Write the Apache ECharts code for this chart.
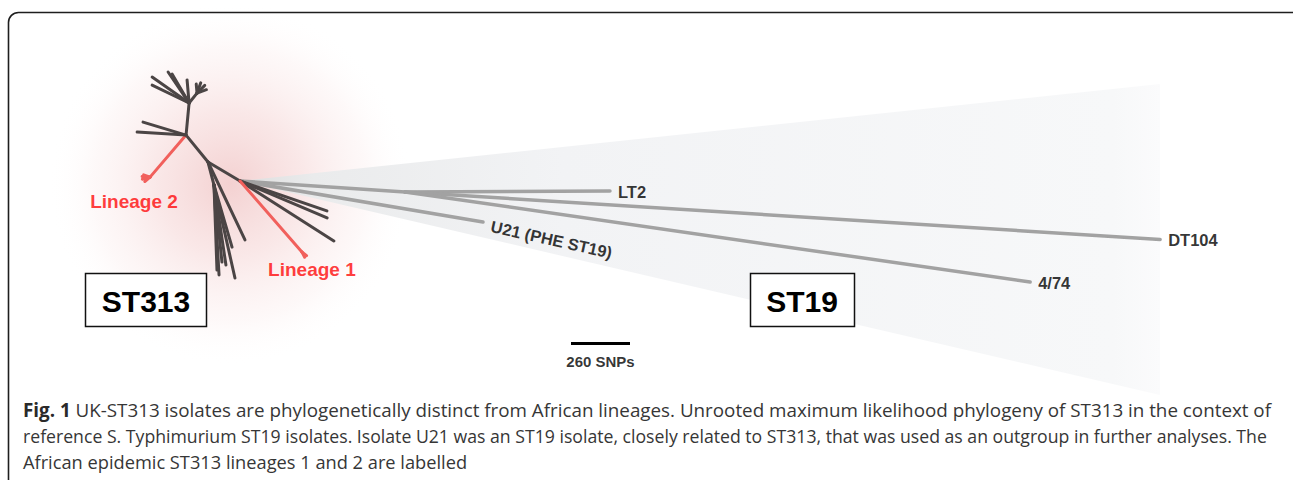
<!DOCTYPE html>
<html><head><meta charset="utf-8">
<script src="https://cdn.jsdelivr.net/npm/echarts@6/dist/echarts.min.js"></script>
<style>html,body{margin:0;padding:0;background:#fff}#c{width:1293px;height:480px}</style>
</head><body><div id="c"></div>
<script>
// ---- Tree data: each branch = child, parent, length (SNPs), direction (deg, CCW from east), clade ----
const edgeChild  = ['B','LT2','DT104','4/74','U21',
  'N1','N2','L2','L2a','L2b','L2c','L2d','a','b','N3','c1','c2','c3','c4','c5','N4','N4a','N4b','N4c','N4d',
  'N5','d1','e1','e2','e3','e4','e5','e6','r1','r2','r3','L1','L1a','L1b'];
const edgeParent = ['H','B','B','B','H',
  'H','N1','N2','L2','L2','L2','L2','N2','N2','N2','N3','N3','N3','N3','N3','N3','N4','N4','N4','N4',
  'N1','N1','N5','N5','N5','N5','N5','N5','H','H','H','H','L1','L1'];
const edgeLength = [729, 903, 3334, 2783, 1086,
  164, 153, 244, 35, 35, 30, 30, 198, 216, 142, 199, 181, 148, 165, 102, 56, 48, 48, 44, 40,
  105, 380, 397, 341, 356, 285, 420, 375, 405, 417, 491, 415, 26, 26];
const edgeAngle  = [-3.8, 0.3, -3.6, -8.2, -9.6,
  149.3, 129.2, -130.6, 175, -165, -140, 160, 163.2, 176.5, 84.6, 144.9, 154.1, 120.4, 124.1, 95, 51.3, 70, 45, 20, 95,
  -75.4, -64.6, -86.8, -84.1, -81.5, -73.8, -77.3, -88, -19, -23, -32.6, -48.9, -62, -38];
const edgeClade  = ['ST19','ST19','ST19','ST19','ST19',
  'ST313','ST313','L2','L2','L2','L2','L2','ST313','ST313','ST313','ST313','ST313','ST313','ST313','ST313','ST313','ST313','ST313','ST313','ST313',
  'ST313','ST313','ST313','ST313','ST313','ST313','ST313','ST313','ST313','ST313','ST313','L1','L1','L1'];
const tipNodes  = ['LT2','DT104','4/74','U21'];
const tipLabels = ['LT2','DT104','4/74','U21 (PHE ST19)'];
const lineageNodes  = ['L2','L1'];
const lineageLabels = ['Lineage 2','Lineage 1'];
const scaleBarSNPs = 260;
const captionBold = 'Fig. 1';
const captionLines = [
  ' UK-ST313 isolates are phylogenetically distinct from African lineages. Unrooted maximum likelihood phylogeny of ST313 in the context of',
  'reference S. Typhimurium ST19 isolates. Isolate U21 was an ST19 isolate, closely related to ST313, that was used as an outgroup in further analyses. The',
  'African epidemic ST313 lineages 1 and 2 are labelled'
];

// ---- layout ----
const K = 260 / 59;          // SNPs per pixel
const HUB = [240, 181];      // pixel position of the central node
const W = 1293, H = 480;

const pos = { H: [0, 0] };
edgeChild.forEach((c, i) => {
  const p = pos[edgeParent[i]];
  const a = edgeAngle[i] * Math.PI / 180;
  pos[c] = [p[0] + edgeLength[i] * Math.cos(a), p[1] + edgeLength[i] * Math.sin(a)];
});

const cladeColor = { ST19: '#a2a2a2', ST313: '#4b4545', L1: '#f1605c', L2: '#f1605c' };
function edgesOf(filter) {
  const out = [];
  edgeChild.forEach((c, i) => {
    if (!filter(edgeClade[i])) return;
    out.push({ coords: [pos[edgeParent[i]], pos[c]], lineStyle: { color: cladeColor[edgeClade[i]] } });
  });
  return out;
}

// caption sizes fitted to the reference line widths
const cv = document.createElement('canvas').getContext('2d');
cv.font = '16px "Open Sans"';
const w1 = cv.measureText(captionLines[0]).width;
const w2 = cv.measureText(captionLines[1]).width;
cv.font = 'bold 16px "Open Sans"';
const wb = cv.measureText(captionBold).width;
const s1 = Math.max(15, Math.min(20, 16 * 1249 / (w1 + wb)));
const s2 = Math.max(15, Math.min(20, 16 * 1245 / w2));
const capSizes = [s1, s2, (s1 + s2) / 2];

const sbStart = [(571 - HUB[0]) * K, -(343 - HUB[1]) * K];

const chart = echarts.init(document.getElementById('c'), null, { renderer: 'svg' });
const labelFont = 'Liberation Sans, Arial, Helvetica, sans-serif';

chart.setOption({
  animation: false,
  backgroundColor: '#ffffff',
  grid: { left: 0, right: 0, top: 0, bottom: 0 },
  xAxis: { type: 'value', min: -HUB[0] * K, max: (W - HUB[0]) * K, show: false },
  yAxis: { type: 'value', min: -(H - HUB[1]) * K, max: HUB[1] * K, show: false },
  graphic: [
    { type: 'circle', z: 0, silent: true, shape: { cx: 230, cy: 184, r: 182 },
      style: { fill: new echarts.graphic.RadialGradient(0.5, 0.5, 0.5, [
        { offset: 0, color: 'rgba(226,140,140,0.40)' },
        { offset: 0.4, color: 'rgba(234,165,165,0.26)' },
        { offset: 0.75, color: 'rgba(242,200,200,0.12)' },
        { offset: 1, color: 'rgba(255,255,255,0)' }]) } },
    { type: 'polygon', z: 1, silent: true,
      shape: { points: [[HUB[0], HUB[1]], [1160, 84], [1160, 395]] },
      style: { fill: new echarts.graphic.LinearGradient(0, 0, 1, 0, [
        { offset: 0, color: '#dedede' },
        { offset: 0.08, color: '#eaebec' },
        { offset: 0.35, color: '#f2f3f5' },
        { offset: 0.95, color: '#f7f8f9' },
        { offset: 1, color: '#fbfbfc' }]) } },
    { type: 'rect', z: 5, silent: true, shape: { x: 8.5, y: 12.5, width: 1300, height: 520, r: 10 },
      style: { fill: 'none', stroke: '#1e1e1e', lineWidth: 1.6 } },
    { type: 'rect', z: 5, shape: { x: 85.5, y: 273.5, width: 121, height: 53 },
      style: { fill: '#fff', stroke: '#111', lineWidth: 1.5 } },
    { type: 'text', z: 6, style: { text: 'ST313', x: 146, y: 301, textAlign: 'center', textVerticalAlign: 'middle',
      fontSize: 30, fontWeight: 'bold', fontFamily: labelFont, fill: '#000' } },
    { type: 'rect', z: 5, shape: { x: 750.5, y: 273.5, width: 104, height: 53 },
      style: { fill: '#fff', stroke: '#111', lineWidth: 1.5 } },
    { type: 'text', z: 6, style: { text: 'ST19', x: 802, y: 301, textAlign: 'center', textVerticalAlign: 'middle',
      fontSize: 30, fontWeight: 'bold', fontFamily: labelFont, fill: '#000' } },
  ].concat(captionLines.map((t, i) => ({
    type: 'text', z: 6, style: {
      text: (i === 0 ? '{b|' + captionBold + '}' : '') + t, x: 23, y: 410 + i * 26, textVerticalAlign: 'middle',
      fontSize: capSizes[i], fontFamily: 'Open Sans', fill: '#363636',
      rich: { b: { fontWeight: 'bold', fontFamily: 'Open Sans', fontSize: capSizes[i], fill: '#2a2a2a' } }
    }
  }))),
  series: [
    { type: 'lines', coordinateSystem: 'cartesian2d', z: 3, silent: true,
      lineStyle: { width: 3.5, opacity: 1, cap: 'round' }, data: edgesOf(c => c === 'ST19') },
    { type: 'lines', coordinateSystem: 'cartesian2d', z: 4, silent: true,
      lineStyle: { width: 3, opacity: 1, cap: 'round' }, data: edgesOf(c => c !== 'ST19') },
    { type: 'lines', coordinateSystem: 'cartesian2d', z: 4, silent: true,
      lineStyle: { width: 3, opacity: 1, color: '#000', cap: 'butt' },
      data: [{ coords: [sbStart, [sbStart[0] + scaleBarSNPs, sbStart[1]]] }] },
    { type: 'scatter', z: 6, silent: true, symbolSize: 0,
      label: { show: true, fontFamily: labelFont, fontWeight: 'bold', color: '#000', fontSize: 16 },
      data: [
        { value: [sbStart[0] + scaleBarSNPs / 2, sbStart[1]], label: { formatter: scaleBarSNPs + ' SNPs', position: 'inside', offset: [0, 18], fontSize: 15 } },
        ...tipNodes.map((n, i) => ({
          value: pos[n],
          label: n === 'U21'
            ? { formatter: tipLabels[i], position: 'right', distance: 9, rotate: -12.5, offset: [0, 4], fontSize: 16.5 }
            : { formatter: tipLabels[i], position: 'right', distance: 8, fontSize: 16.5, offset: [0, 1] }
        })),
        ...lineageNodes.map((n, i) => ({
          value: pos[n],
          label: { formatter: lineageLabels[i], position: 'inside', color: '#ff0a0a', fontSize: 19,
            offset: n === 'L2' ? [-16, 24] : [10, 18] }
        }))
      ] }
  ]
});
</script></body></html>
